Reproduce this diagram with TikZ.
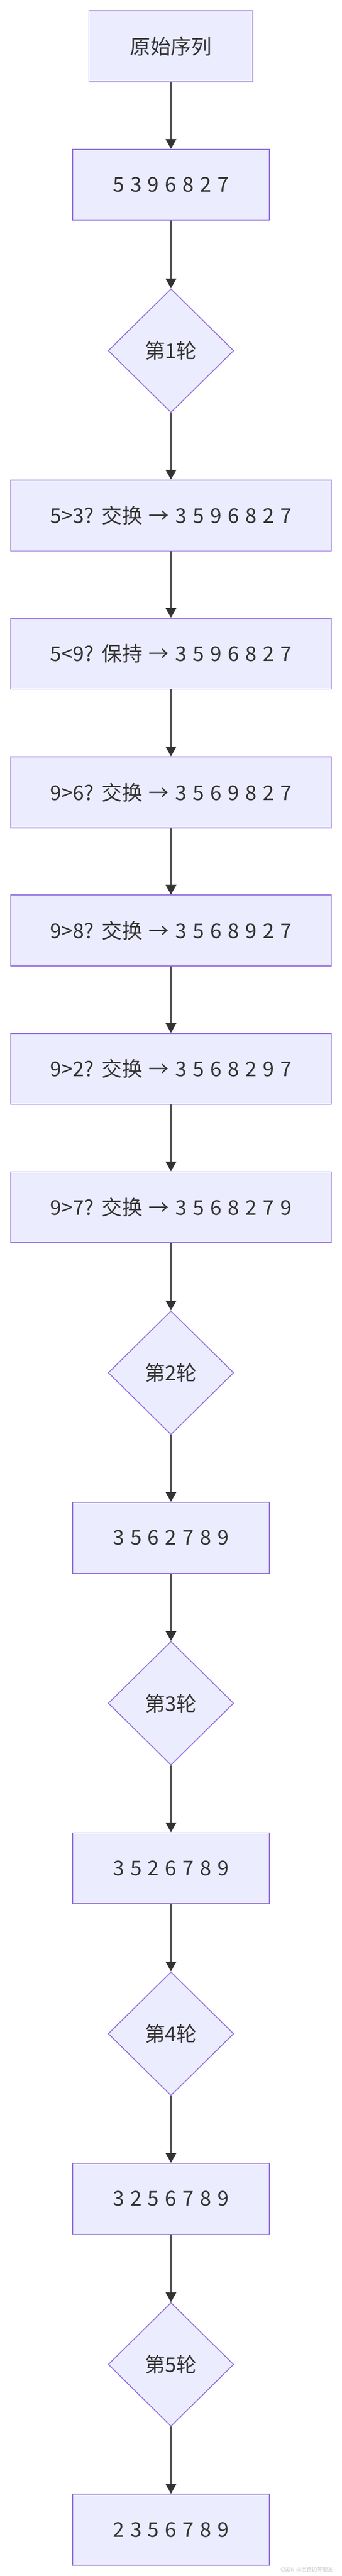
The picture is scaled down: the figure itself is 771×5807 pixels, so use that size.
\documentclass[tikz,border=0pt]{standalone}
\usepackage{fontspec}
\setmainfont[WordSpace=1.35]{Noto Sans CJK SC}
\usetikzlibrary{shapes.geometric,arrows.meta}
\definecolor{boxfill}{HTML}{ECECFF}
\definecolor{boxline}{HTML}{9370DB}
\definecolor{ink}{HTML}{333333}
\begin{document}
\begin{tikzpicture}
			[x=1pt,y=1pt,
			box/.style={rectangle,draw=boxline,fill=boxfill,line width=2pt,minimum height=160pt,text=ink,font=\fontsize{46}{55}\selectfont},
			round/.style={diamond,draw=boxline,fill=boxfill,line width=2pt,minimum width=283pt,minimum height=279pt,inner sep=0pt,text=ink,font=\fontsize{46}{55}\selectfont},
			>={Triangle[length=22pt,width=24pt]}]
			\useasboundingbox(0,0)rectangle(771,-5807);
			\node[box,name=orig,minimum width=370pt]at(385.5,-104.5){原始序列};
			\node[box,name=seq,minimum width=443pt]at(385.5,-416.5){5 3 9 6 8 2 7};
			\node[round,name=d1]at(385.5,-790.5){第1轮};
			\node[box,name=s1,minimum width=722pt]at(385.5,-1162){5>3? 交换 → 3 5 9 6 8 2 7};
			\node[box,name=s2,minimum width=722pt]at(385.5,-1473.5){5<9? 保持 → 3 5 9 6 8 2 7};
			\node[box,name=s3,minimum width=722pt]at(385.5,-1786){9>6? 交换 → 3 5 6 9 8 2 7};
			\node[box,name=s4,minimum width=722pt]at(385.5,-2097.5){9>8? 交换 → 3 5 6 8 9 2 7};
			\node[box,name=s5,minimum width=722pt]at(385.5,-2409.5){9>2? 交换 → 3 5 6 8 2 9 7};
			\node[box,name=s6,minimum width=722pt]at(385.5,-2721.5){9>7? 交换 → 3 5 6 8 2 7 9};
			\node[round,name=d2]at(385.5,-3094.5){第2轮};
			\node[box,name=r2,minimum width=443pt]at(385.5,-3466.5){3 5 6 2 7 8 9};
			\node[round,name=d3]at(385.5,-3839.5){第3轮};
			\node[box,name=r3,minimum width=443pt]at(385.5,-4211.5){3 5 2 6 7 8 9};
			\node[round,name=d4]at(385.5,-4584.5){第4轮};
			\node[box,name=r4,minimum width=443pt]at(385.5,-4956.5){3 2 5 6 7 8 9};
			\node[round,name=d5]at(385.5,-5330){第5轮};
			\node[box,name=r5,minimum width=443pt]at(385.5,-5702.5){2 3 5 6 7 8 9};
			\node[name=mark,text=gray!45,font=\fontsize{12}{14}\selectfont]at(692,-5793){CSDN @坐路边等朋友};
			\draw[->,line width=2.5pt,ink](orig)--(seq);
			\draw[->,line width=2.5pt,ink](seq)--(d1);
			\draw[->,line width=2.5pt,ink](d1)--(s1);
			\draw[->,line width=2.5pt,ink](s1)--(s2);
			\draw[->,line width=2.5pt,ink](s2)--(s3);
			\draw[->,line width=2.5pt,ink](s3)--(s4);
			\draw[->,line width=2.5pt,ink](s4)--(s5);
			\draw[->,line width=2.5pt,ink](s5)--(s6);
			\draw[->,line width=2.5pt,ink](s6)--(d2);
			\draw[->,line width=2.5pt,ink](d2)--(r2);
			\draw[->,line width=2.5pt,ink](r2)--(d3);
			\draw[->,line width=2.5pt,ink](d3)--(r3);
			\draw[->,line width=2.5pt,ink](r3)--(d4);
			\draw[->,line width=2.5pt,ink](d4)--(r4);
			\draw[->,line width=2.5pt,ink](r4)--(d5);
			\draw[->,line width=2.5pt,ink](d5)--(r5);
		\end{tikzpicture}
\end{document}
